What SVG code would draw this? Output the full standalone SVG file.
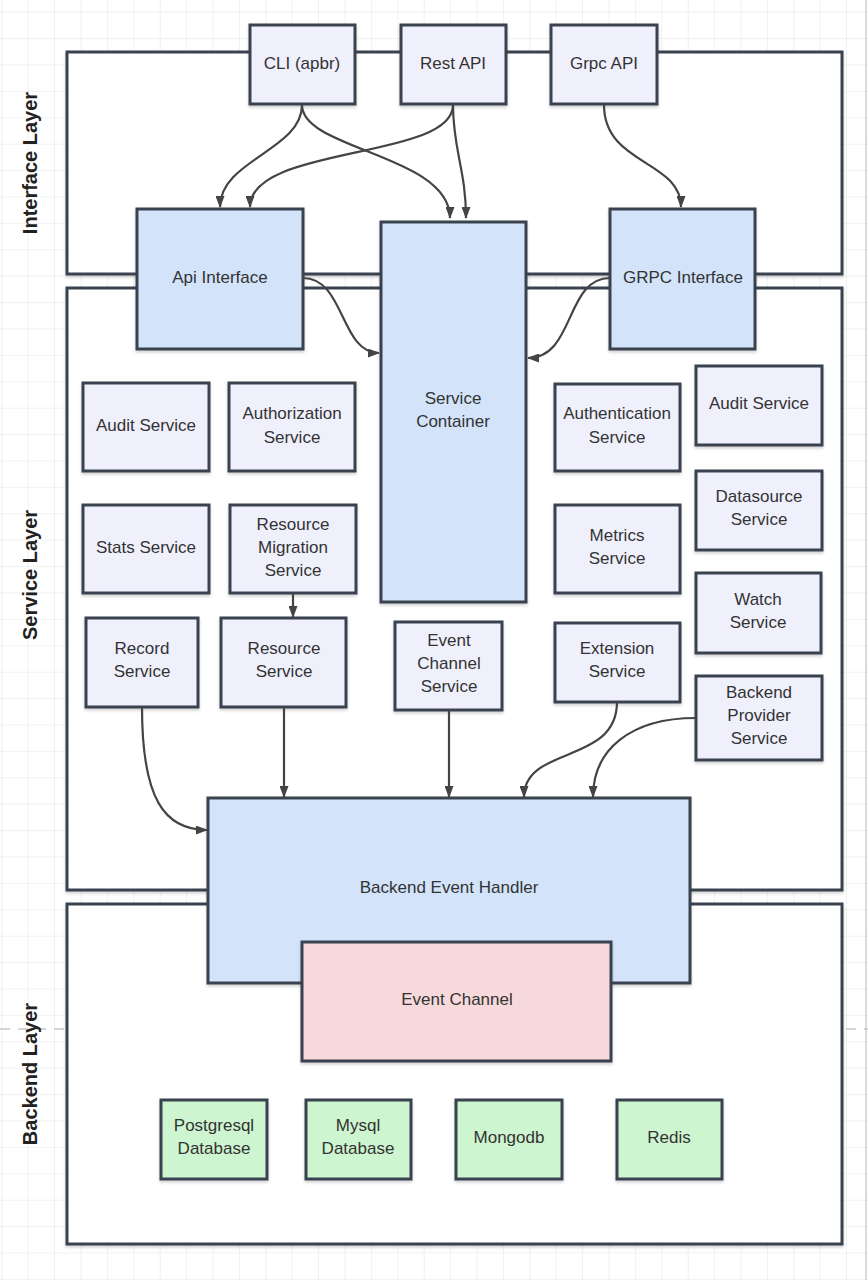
<svg xmlns="http://www.w3.org/2000/svg" width="868" height="1280" viewBox="0 0 868 1280">
<defs>
<pattern id="grid" x="1.3" y="11.7" width="26.4" height="26.4" patternUnits="userSpaceOnUse">
<path d="M0,0 H26.4 M0,0 V26.4" fill="none" stroke="#e4e4e4" stroke-width="1"/>
</pattern>
<filter id="sh" x="-5%" y="-5%" width="110%" height="115%">
<feDropShadow dx="0" dy="2" stdDeviation="1.5" flood-color="#000" flood-opacity="0.18"/>
</filter>
<marker id="arr" viewBox="0 0 12 9" refX="11" refY="4.5" markerWidth="12" markerHeight="9" markerUnits="userSpaceOnUse" orient="auto">
<path d="M0,0 L12,4.5 L0,9 Z" fill="#444"/>
</marker>
<style>
.layer{fill:#fff;stroke:#3b4350;stroke-width:3;filter:url(#sh)}
.n{stroke:#3b4350;stroke-width:3;filter:url(#sh)}
.lav{fill:#eff0fc}
.blue{fill:#d2e3fa}
.pink{fill:#f7d9dc}
.green{fill:#cdf5cf}
text{font-family:"Liberation Sans",Arial,sans-serif;font-size:17px;fill:#333;text-anchor:middle}
.lt{font-size:20px;font-weight:bold;fill:#222}
.c{fill:none;stroke:#444;stroke-width:2.2;marker-end:url(#arr)}
</style>
</defs>
<rect width="868" height="1280" fill="#fff"/>
<rect width="868" height="1280" fill="url(#grid)"/>
<line x1="0" y1="1029" x2="868" y2="1029" stroke="#d4d4d4" stroke-width="2" stroke-dasharray="10,8"/>
<line x1="866" y1="0" x2="866" y2="1280" stroke="#cfcfcf" stroke-width="1.5"/>

<g id="interface-layer">
<rect class="layer" x="67" y="52" width="775" height="222"/>
<text class="lt" transform="translate(37,163) rotate(-90)">Interface Layer</text>
</g>
<g id="service-layer">
<rect class="layer" x="67" y="288" width="775" height="602"/>
<text class="lt" transform="translate(37,575) rotate(-90)">Service Layer</text>
</g>
<g id="backend-layer">
<rect class="layer" x="67" y="904" width="775" height="340"/>
<text class="lt" transform="translate(37,1074) rotate(-90)">Backend Layer</text>
</g>

<g id="cli"><rect class="n lav" x="250" y="25" width="105" height="79"/><text x="302" y="69">CLI (apbr)</text></g>
<g id="rest-api"><rect class="n lav" x="401" y="25" width="105" height="79"/><text x="453" y="69">Rest API</text></g>
<g id="grpc-api"><rect class="n lav" x="551" y="25" width="106" height="79"/><text x="604" y="69">Grpc API</text></g>

<g id="api-interface"><rect class="n blue" x="137" y="209" width="166" height="140"/><text x="220" y="283">Api Interface</text></g>
<g id="service-container"><rect class="n blue" x="381" y="222" width="145" height="380"/><text x="453" y="404">Service</text><text x="453" y="427">Container</text></g>
<g id="grpc-interface"><rect class="n blue" x="610" y="209" width="145" height="140"/><text x="683" y="283">GRPC Interface</text></g>

<g id="audit-service-left"><rect class="n lav" x="83" y="383" width="126" height="88"/><text x="146" y="431">Audit Service</text></g>
<g id="authorization-service"><rect class="n lav" x="229" y="383" width="126" height="88"/><text x="292" y="419">Authorization</text><text x="292" y="443">Service</text></g>
<g id="authentication-service"><rect class="n lav" x="555" y="384" width="125" height="87"/><text x="617" y="419">Authentication</text><text x="617" y="443">Service</text></g>
<g id="audit-service-right"><rect class="n lav" x="696" y="366" width="126" height="79"/><text x="759" y="409">Audit Service</text></g>

<g id="stats-service"><rect class="n lav" x="83" y="505" width="126" height="88"/><text x="146" y="553">Stats Service</text></g>
<g id="resource-migration-service"><rect class="n lav" x="230" y="505" width="126" height="88"/><text x="293" y="530">Resource</text><text x="293" y="553">Migration</text><text x="293" y="576">Service</text></g>
<g id="metrics-service"><rect class="n lav" x="555" y="505" width="125" height="88"/><text x="617" y="541">Metrics</text><text x="617" y="564">Service</text></g>
<g id="datasource-service"><rect class="n lav" x="696" y="471" width="126" height="79"/><text x="759" y="502">Datasource</text><text x="759" y="525">Service</text></g>
<g id="watch-service"><rect class="n lav" x="696" y="573" width="125" height="80"/><text x="758" y="605">Watch</text><text x="758" y="628">Service</text></g>

<g id="record-service"><rect class="n lav" x="86" y="618" width="112" height="89"/><text x="142" y="654">Record</text><text x="142" y="677">Service</text></g>
<g id="resource-service"><rect class="n lav" x="221" y="618" width="125" height="89"/><text x="284" y="654">Resource</text><text x="284" y="677">Service</text></g>
<g id="event-channel-service"><rect class="n lav" x="395" y="622" width="107" height="88"/><text x="449" y="646">Event</text><text x="449" y="669">Channel</text><text x="449" y="692">Service</text></g>
<g id="extension-service"><rect class="n lav" x="555" y="623" width="125" height="79"/><text x="617" y="654">Extension</text><text x="617" y="677">Service</text></g>
<g id="backend-provider-service"><rect class="n lav" x="696" y="676" width="126" height="84"/><text x="759" y="698">Backend</text><text x="759" y="721">Provider</text><text x="759" y="744">Service</text></g>

<g id="backend-event-handler"><rect class="n blue" x="208" y="798" width="482" height="185"/><text x="449" y="893">Backend Event Handler</text></g>
<g id="event-channel"><rect class="n pink" x="302" y="942" width="309" height="119"/><text x="457" y="1005">Event Channel</text></g>

<g id="postgresql"><rect class="n green" x="161" y="1100" width="106" height="79"/><text x="214" y="1131">Postgresql</text><text x="214" y="1154">Database</text></g>
<g id="mysql"><rect class="n green" x="306" y="1100" width="105" height="79"/><text x="358" y="1131">Mysql</text><text x="358" y="1154">Database</text></g>
<g id="mongodb"><rect class="n green" x="456" y="1100" width="106" height="79"/><text x="509" y="1143">Mongodb</text></g>
<g id="redis"><rect class="n green" x="617" y="1100" width="105" height="79"/><text x="669" y="1143">Redis</text></g>

<g id="connectors">
<path class="c" d="M302,105 C302,150 220,160 220,207"/>
<path class="c" d="M302,105 C302,150 450,155 450,218"/>
<path class="c" d="M453,105 C453,160 250,145 250,207"/>
<path class="c" d="M453,105 C453,150 466,170 466,218"/>
<path class="c" d="M604,105 C604,165 681,160 681,207"/>
<path class="c" d="M303,278 C345,278 340,353 379,353"/>
<path class="c" d="M610,278 C565,278 575,358 528,358"/>
<path class="c" d="M293,593 L293,617"/>
<path class="c" d="M142,707 C142,800 165,830 207,830"/>
<path class="c" d="M284,707 L284,797"/>
<path class="c" d="M449,710 L449,797"/>
<path class="c" d="M617,702 C617,765 524,745 524,797"/>
<path class="c" d="M696,718 C630,718 593,750 593,797"/>
</g>
</svg>
